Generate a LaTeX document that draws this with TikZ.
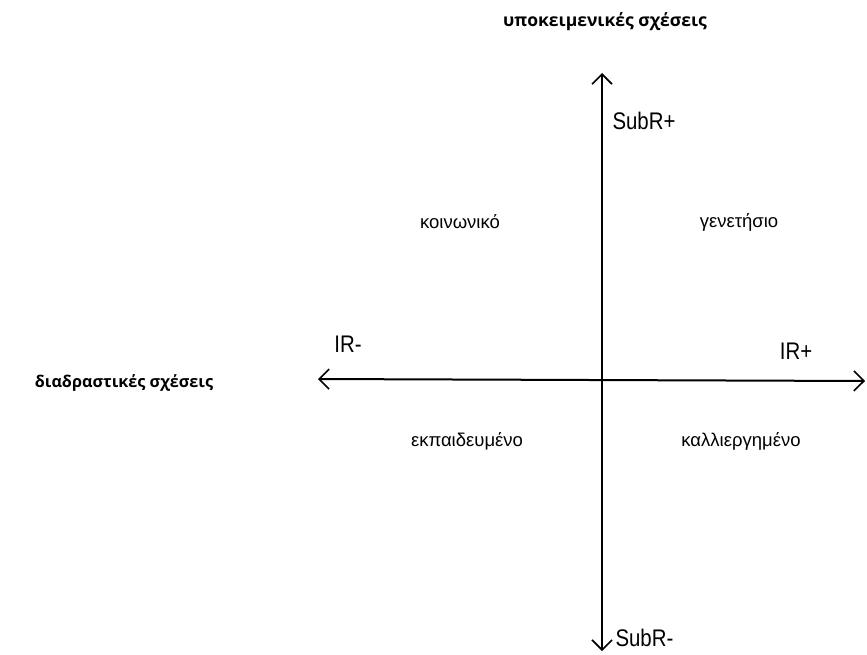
\documentclass[tikz,border=0pt]{standalone}
\usepackage{fontspec}
\setmainfont{Liberation Sans}
\newfontfamily\titlefont{Open Sans}
\newfontfamily\axisfont[FakeStretch=0.85]{Liberation Sans}
\usetikzlibrary{arrows.meta}
\usetikzlibrary{positioning}
\tikzset{axis line/.style={draw,line width=2pt,{Straight Barb[length=10pt,width=20pt,line width=1.6pt]}-{Straight Barb[length=10pt,width=20pt,line width=1.6pt]}},
            title node/.style={font=\titlefont\bfseries\fontsize{17.5}{21}\selectfont},
            region node/.style={font=\fontsize{18.5}{22}\selectfont},
            pole node/.style={font=\axisfont\fontsize{24}{28}\selectfont},
            }

\begin{document}
\begin{tikzpicture}[x=1pt,y=-1pt]
        \useasboundingbox (0,0) rectangle (867,654);

        \coordinate (top) at (602,73);
        \coordinate (bottom) at (602,651);
        \coordinate (left) at (318,379);
        \coordinate (right) at (865,381);

        \node[title node] (subj) at (605,22) {υποκειμενικές σχέσεις};
        \node[title node,font=\titlefont\bfseries\fontsize{16.2}{20}\selectfont] (inter) at (124,383) {διαδραστικές σχέσεις};

        \node[pole node,anchor=west] (subplus) at (609,121) {SubR+};
        \node[pole node,anchor=west] (subminus) at (612,638) {SubR-};
        \node[pole node] (irminus) at (348,344) {IR-};
        \node[pole node] (irplus) at (796,351) {IR+};

        \node[region node] (social) at (460,222) {κοινωνικό};
        \node[region node] (genital) at (739,222) {γενετήσιο};
        \node[region node] (trained) at (467,441) {εκπαιδευμένο};
        \node[region node] (cultured) at (741,441) {καλλιεργημένο};

        \path[axis line] (bottom) -- (top);
        \path[axis line] (left) -- (right);
      \end{tikzpicture}
\end{document}
